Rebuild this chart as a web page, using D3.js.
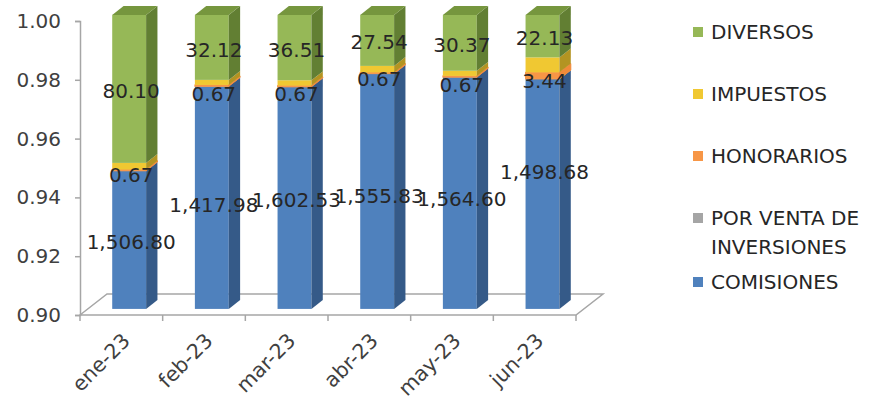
<!DOCTYPE html>
<html><head><meta charset="utf-8">
<script src="https://cdn.jsdelivr.net/npm/d3@7"></script>
<style>body{margin:0;background:#fff} svg{display:block} text{font-family:"DejaVu Sans",sans-serif}</style>
</head><body><svg id="c" width="875" height="400"></svg>
<script>
// ---- data ----
const categories = ["ene-23","feb-23","mar-23","abr-23","may-23","jun-23"];
const comisiones = [1506.80,1417.98,1602.53,1555.83,1564.60,1498.68];
const porVentaInversiones = [0,0,0,0,0,0];
const honorarios = [0.67,0.67,0.67,0.67,0.67,3.44];
const impuestos = [3.6,2.5,3.0,3.5,2.8,7.8];
const diversos = [80.10,32.12,36.51,27.54,30.37,22.13];
const yTicks = [0.90,0.92,0.94,0.96,0.98,1.00];
const seriesKeys = ["COMISIONES","POR VENTA DE INVERSIONES","HONORARIOS","IMPUESTOS","DIVERSOS"];
const seriesValues = [comisiones, porVentaInversiones, honorarios, impuestos, diversos];
const labeledSeries = ["COMISIONES","HONORARIOS","DIVERSOS"];

// ---- styles ----
const colors = {
  "COMISIONES": {front:"#4f81bd", side:"#355a88", top:"#3f6a9e"},
  "POR VENTA DE INVERSIONES": {front:"#a5a5a5", side:"#7a7a7a", top:"#8c8c8c"},
  "HONORARIOS": {front:"#f79646", side:"#f08a3a", top:"#d07a36"},
  "IMPUESTOS": {front:"#f0c832", side:"#b39422", top:"#cfac2a"},
  "DIVERSOS": {front:"#96b857", side:"#627f33", top:"#76963e"}
};
const legendOrder = ["DIVERSOS","IMPUESTOS","HONORARIOS","POR VENTA DE INVERSIONES","COMISIONES"];

const table = categories.map((c,i)=>{
  const o={cat:c};
  seriesKeys.forEach((k,j)=>o[k]=seriesValues[j][i]);
  return o;
});
const stacked = d3.stack().keys(seriesKeys).offset(d3.stackOffsetExpand)(table);

const svg = d3.select("#c");
const X0=80, X1=576, YB=315, YT=21;
const D={dx:27, dy:-21};          // floor depth
const f0=0.29, f1=0.71;            // bar depth span
const x = d3.scaleBand().domain(categories).range([X0,X1]).paddingInner(0.59).paddingOuter(0.295);
const y = d3.scaleLinear().domain([0.90,1.00]).range([YB,YT]).clamp(true);

// floor
svg.append("polygon")
  .attr("points",[[X0,YB],[X0+D.dx,YB+D.dy],[X1+D.dx,YB+D.dy],[X1,YB]].map(p=>p.join(",")).join(" "))
  .attr("fill","none").attr("stroke","#a6a6a6").attr("stroke-width",1.5);

// y axis
const yAxis = d3.axisLeft(y).tickValues(yTicks).tickFormat(d3.format(".2f")).tickSize(5).tickPadding(14);
const gy = svg.append("g").attr("transform",`translate(${X0},0)`).call(yAxis);
gy.select(".domain").attr("stroke","#a6a6a6").attr("stroke-width",1.5);
gy.selectAll(".tick line").attr("stroke","#a6a6a6").attr("stroke-width",1.5);
gy.selectAll("text").attr("font-size",20).attr("fill","#404040").attr("font-family","DejaVu Sans");

// x axis
const xAxis = d3.axisBottom(x).tickSize(6).tickFormat(d=>d);
const gx = svg.append("g").attr("transform",`translate(0,${YB})`).call(xAxis);
gx.select(".domain").remove();
gx.selectAll(".tick line").remove();
const tickPos = d3.range(categories.length+1).map(i=>X0+i*x.step());
gx.selectAll(".bt").data(tickPos).join("line").attr("class","bt")
  .attr("x1",d=>d).attr("x2",d=>d).attr("y1",0).attr("y2",6)
  .attr("stroke","#a6a6a6").attr("stroke-width",1.5);
gx.selectAll(".tick text")
  .attr("font-size",20.5).attr("fill","#404040").attr("font-family","DejaVu Sans")
  .attr("text-anchor","end").attr("dy",null).attr("y",null)
  .attr("transform","translate(10,27) rotate(-45)");

// bars
const bw = x.bandwidth();
const bdx=(f1-f0)*D.dx, bdy=(f1-f0)*D.dy;
const gBars = svg.append("g");
categories.forEach((c,i)=>{
  const fx = x(c)+f0*D.dx;
  stacked.forEach((s,si)=>{
    const d=s[i];
    const yt=y(d[1])+f0*D.dy, yb=y(d[0])+f0*D.dy;
    if (yb-yt<=0.01) return;
    const col=colors[s.key];
    const thin = s.key==="HONORARIOS";
    gBars.append("rect").attr("x",fx).attr("y",yt).attr("width",bw).attr("height",yb-yt).attr("fill",col.front)
      .attr("stroke",thin?col.front:"none").attr("stroke-width",thin?1:0);
    gBars.append("polygon").attr("points",[[fx+bw,yt],[fx+bw+bdx,yt+bdy],[fx+bw+bdx,yb+bdy],[fx+bw,yb]].map(p=>p.join(",")).join(" "))
      .attr("fill",col.side).attr("stroke",thin?col.side:"none").attr("stroke-width",thin?1:0);
    if (si===stacked.length-1){
      gBars.append("polygon").attr("points",[[fx,yt],[fx+bdx,yt+bdy],[fx+bw+bdx,yt+bdy],[fx+bw,yt]].map(p=>p.join(",")).join(" "))
        .attr("fill",col.top);
    }
  });
});

// data labels
const fmt=d3.format(",.2f");
const nudge = {"COMISIONES":[2,7,2,5,6,-22],"HONORARIOS":[5,8,8,6,8,5],"DIVERSOS":[2,3,2,2,2,2]};
const gLab = svg.append("g");
stacked.filter(s=>labeledSeries.includes(s.key)).forEach(s=>{
  categories.forEach((c,i)=>{
    const d=s[i];
    const fx = x(c)+f0*D.dx;
    const yt=y(d[1])+f0*D.dy, yb=y(d[0])+f0*D.dy;
    gLab.append("text").attr("x",fx+bw/2+2).attr("y",(yt+yb)/2+nudge[s.key][i])
      .attr("dy","0.35em").attr("text-anchor","middle").attr("font-size",20).attr("fill","#262626")
      .text(fmt(s[i].data[s.key]));
  });
});

// legend
const legendY = {"DIVERSOS":[32],"IMPUESTOS":[94],"HONORARIOS":[156],"POR VENTA DE INVERSIONES":[218,247],"COMISIONES":[282]};
const legendLines = {"POR VENTA DE INVERSIONES":["POR VENTA DE","INVERSIONES"]};
const gL = svg.append("g");
legendOrder.forEach(k=>{
  const ys=legendY[k];
  gL.append("rect").attr("x",693).attr("y",ys[0]-5).attr("width",10).attr("height",10).attr("fill",colors[k].front);
  const lines = legendLines[k]||[k];
  lines.forEach((t,j)=>{
    gL.append("text").attr("x",711).attr("y",ys[j]).attr("dy","0.35em").attr("font-size",20).attr("fill","#262626").text(t);
  });
});
</script></body></html>
